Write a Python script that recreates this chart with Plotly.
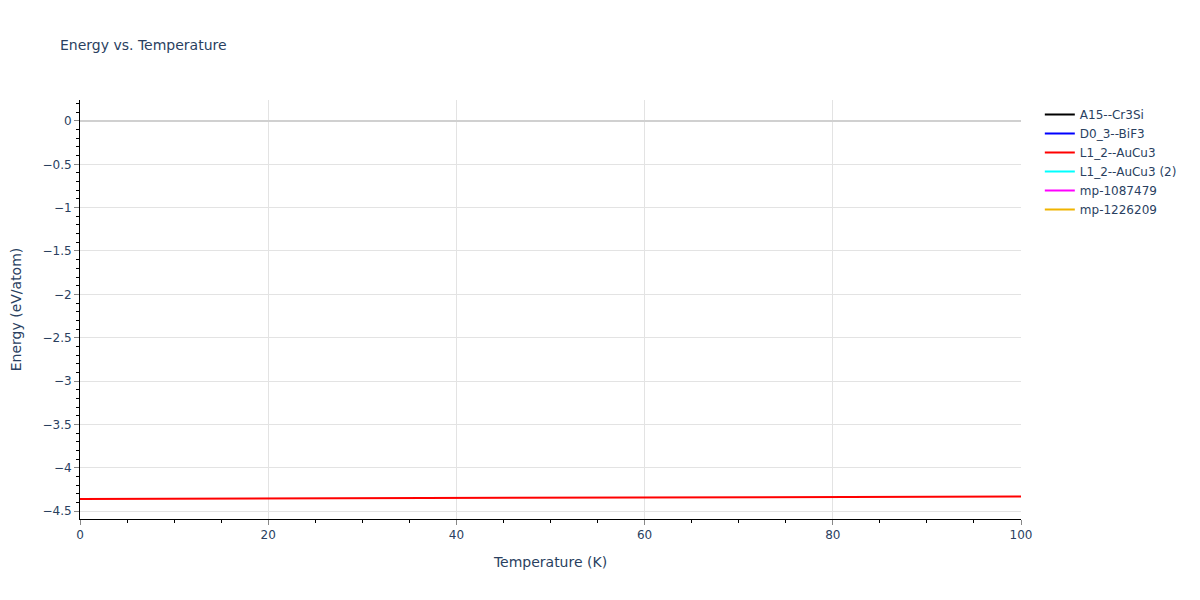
import plotly.graph_objects as go

temperature = [0, 10, 20, 30, 40, 50, 60, 70, 80, 90, 100]
names = ["A15--Cr3Si", "D0_3--BiF3", "L1_2--AuCu3", "L1_2--AuCu3 (2)", "mp-1087479", "mp-1226209"]
colors = ["black", "blue", "red", "cyan", "magenta", "#f0b400"]
energy_l12 = [-4.361, -4.358, -4.356, -4.353, -4.350, -4.347, -4.344, -4.341, -4.339, -4.336, -4.333]
no_data = [None] * len(temperature)
series = {
    "A15--Cr3Si": no_data,
    "D0_3--BiF3": no_data,
    "L1_2--AuCu3": energy_l12,
    "L1_2--AuCu3 (2)": no_data,
    "mp-1087479": no_data,
    "mp-1226209": no_data,
}

fig = go.Figure()
for name, color in zip(names, colors):
    fig.add_trace(go.Scatter(x=temperature, y=series[name], mode="lines", name=name,
                             showlegend=True, line=dict(color=color, width=2)))

axis_common = dict(showline=True, linecolor="black", linewidth=1, ticks="outside", ticklen=5,
                   tickcolor="#888", gridcolor="#e3e3e3", zeroline=True, zerolinecolor="#d0d0d0",
                   zerolinewidth=2, automargin=False)
fig.update_layout(
    template="plotly_white",
    width=1200, height=600,
    margin=dict(l=72, r=187, t=92, b=89),
    font=dict(family="DejaVu Sans, Verdana, sans-serif", size=12, color="#2a3f5f"),
    title=dict(text="Energy vs. Temperature", font=dict(size=14), x=52 / 1200, xanchor="left",
               y=1 - 37 / 600, yanchor="middle"),
    showlegend=True,
    legend=dict(font=dict(size=12)),
    xaxis=dict(title=dict(text="Temperature (K)", font=dict(size=14)), range=[0, 100], dtick=20,
               minor=dict(dtick=5, ticks="outside", ticklen=3, tickcolor="black", showgrid=False),
               **axis_common),
    yaxis=dict(title=dict(text="Energy (eV/atom)", font=dict(size=14), standoff=24),
               range=[-4.592, 0.242], dtick=0.5,
               minor=dict(dtick=0.1, ticks="outside", ticklen=3, tickcolor="black", showgrid=False),
               **axis_common),
)
fig.write_html("out.html")
